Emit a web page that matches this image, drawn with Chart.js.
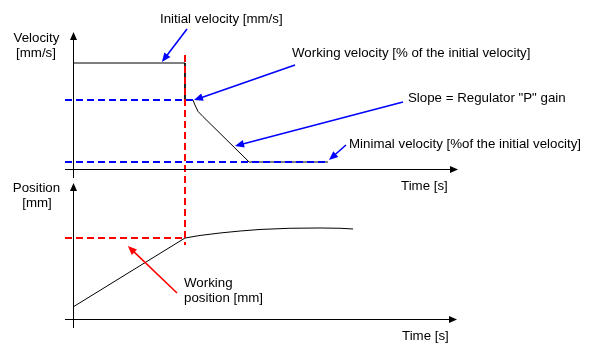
<!DOCTYPE html>
<html>
<head>
<meta charset="utf-8">
<script src="https://cdn.jsdelivr.net/npm/chart.js@4/dist/chart.umd.min.js"></script>
<style>
html,body{margin:0;padding:0;background:#fff;}
canvas{display:block;}
</style>
</head>
<body>
<canvas id="c" width="599" height="356"></canvas>
<script>
// ---- data (time in arbitrary units, velocity in % of initial, position in % of final) ----
const velTime  = [0, 3.49, 3.49, 3.74, 3.80, 3.90, 4.05, 5.49, 7.95];
const velValue = [100, 100, 65, 65, 60.4, 54.2, 49.5, 6.6, 6.6];
const posTime  = [0, 3.49, 3.96, 4.58, 5.21, 5.83, 6.76, 7.70, 8.32, 8.73];
const posValue = [13.2, 89, 91.8, 94.5, 96.7, 98.4, 99.7, 100, 99.7, 98.9];

const switchTime = 3.49;
const workingVelocity = 65;
const workingVelEnd = 3.74;
const minimalVelocity = 6.6;
const minimalVelEnd = 7.95;
const workingPosition = 89;
const redLineTop = 290, redLineBottom = 81.3;

const tMin = -0.25, tMax = 12;
const vMin = -150, vMax = 129.25;
const pMin = -9.89, pMax = 315.38;

const axisLabels = {
  vel: ['Velocity', '[mm/s]'],
  pos: ['Position', '[mm]'],
  time: 'Time [s]'
};

// annotations: arrow heads in data units, text anchors in px
const notes = [
  {text:['Initial velocity [mm/s]'], tx:160, ty:22.5, tail:[187,29], head:{t:2.77, y:101, axis:'yV'}, color:'#0000ff'},
  {text:['Working velocity [% of the initial velocity]'], tx:292, ty:56.5, tail:[295,65], head:{t:3.77, y:65, axis:'yV'}, color:'#0000ff'},
  {text:['Slope = Regulator "P" gain'], tx:408, ty:101.5, tail:[403,102], head:{t:5.05, y:21.7, axis:'yV'}, color:'#0000ff'},
  {text:['Minimal velocity [%of the initial velocity]'], tx:349, ty:147.5, tail:[346,145], head:{t:7.98, y:8.5, axis:'yV'}, color:'#0000ff'},
  {text:['Working', 'position [mm]'], tx:184, ty:286.5, tail:[177,293], head:{t:1.71, y:80.2, axis:'yP'}, color:'#ff0000'}
];

const pts = (xs, ys) => xs.map((x, i) => ({x, y: ys[i]}));

const FONT = '13.3px "Liberation Sans", Arial, sans-serif';

function arrowHead(ctx, x1, y1, x2, y2, len, hw, color) {
  const a = Math.atan2(y2 - y1, x2 - x1);
  const c = Math.cos(a), s = Math.sin(a);
  ctx.fillStyle = color;
  ctx.beginPath();
  ctx.moveTo(x2, y2);
  ctx.lineTo(x2 - len * c - hw * s, y2 - len * s + hw * c);
  ctx.lineTo(x2 - len * c + hw * s, y2 - len * s - hw * c);
  ctx.closePath();
  ctx.fill();
}

const diagram = {
  id: 'diagram',
  afterDatasetsDraw(chart) {
    const ctx = chart.ctx;
    const x = chart.scales.x, yV = chart.scales.yV, yP = chart.scales.yP;
    ctx.save();
    ctx.strokeStyle = '#000';
    ctx.lineWidth = 1;
    // top panel axes
    const x0 = Math.round(x.getPixelForValue(0)) + 0.5;
    const xl = x.getPixelForValue(tMin), xr = x.getPixelForValue(tMax);
    const vy0 = Math.round(yV.getPixelForValue(0)) + 0.5;
    const vTop = yV.getPixelForValue(vMax), vBot = yV.getPixelForValue(-8.5);
    ctx.beginPath();
    ctx.moveTo(x0, vTop + 4); ctx.lineTo(x0, vBot);
    ctx.moveTo(xl, vy0); ctx.lineTo(xr - 4, vy0);
    ctx.stroke();
    arrowHead(ctx, x0, vy0, x0, vTop, 8, 3.5, '#000');
    arrowHead(ctx, xl, vy0, xr, vy0, 8, 3.5, '#000');
    // bottom panel axes
    const py0 = Math.round(yP.getPixelForValue(0)) + 0.5;
    const pTop = yP.getPixelForValue(149.5), pBot = yP.getPixelForValue(pMin);
    ctx.beginPath();
    ctx.moveTo(x0, pTop + 4); ctx.lineTo(x0, pBot);
    ctx.moveTo(xl, py0); ctx.lineTo(xr - 5, py0);
    ctx.stroke();
    arrowHead(ctx, x0, py0, x0, pTop, 8, 3.5, '#000');
    arrowHead(ctx, xl, py0, xr - 1, py0, 8, 3.5, '#000');

    // axis titles
    ctx.font = FONT;
    ctx.fillStyle = '#000';
    ctx.textBaseline = 'alphabetic';
    ctx.textAlign = 'center';
    ctx.fillText(axisLabels.vel[0], 36.5, 41.5);
    ctx.fillText(axisLabels.vel[1], 36, 57);
    ctx.fillText(axisLabels.pos[0], 36.5, 191.5);
    ctx.fillText(axisLabels.pos[1], 37, 207);
    ctx.textAlign = 'left';
    ctx.fillText(axisLabels.time, 401, 189.5);
    ctx.fillText(axisLabels.time, 402, 339.5);

    // annotations
    notes.forEach(n => {
      ctx.fillStyle = '#000';
      ctx.textAlign = 'left';
      n.text.forEach((line, i) => ctx.fillText(line, n.tx, n.ty + i * 15.5));
      const sc = chart.scales[n.head.axis];
      const hx = x.getPixelForValue(n.head.t), hy = sc.getPixelForValue(n.head.y);
      const [tx, ty] = n.tail;
      const a = Math.atan2(hy - ty, hx - tx);
      ctx.strokeStyle = n.color;
      ctx.lineWidth = 1.6;
      ctx.beginPath();
      ctx.moveTo(tx, ty);
      ctx.lineTo(hx - 6 * Math.cos(a), hy - 6 * Math.sin(a));
      ctx.stroke();
      arrowHead(ctx, tx, ty, hx, hy, 9, 3.8, n.color);
    });
    ctx.restore();
  }
};

new Chart(document.getElementById('c'), {
  type: 'scatter',
  data: {
    datasets: [
      { label: 'working velocity', data: pts([tMin, workingVelEnd], [workingVelocity, workingVelocity]), yAxisID: 'yV',
        showLine: true, borderColor: '#0000ff', borderWidth: 2, borderDash: [7, 4], pointRadius: 0 },
      { label: 'minimal velocity', data: pts([tMin, minimalVelEnd], [minimalVelocity, minimalVelocity]), yAxisID: 'yV',
        showLine: true, borderColor: '#0000ff', borderWidth: 2, borderDash: [7, 4], pointRadius: 0 },
      { label: 'switch time', data: pts([switchTime, switchTime], [redLineTop, redLineBottom]), yAxisID: 'yP',
        showLine: true, borderColor: '#ff0000', borderWidth: 2, borderDash: [7, 4], pointRadius: 0 },
      { label: 'working position', data: pts([tMin, switchTime], [workingPosition, workingPosition]), yAxisID: 'yP',
        showLine: true, borderColor: '#ff0000', borderWidth: 2, borderDash: [7, 4], pointRadius: 0 },
      { label: 'velocity', data: pts(velTime, velValue), yAxisID: 'yV',
        showLine: true, borderColor: '#000', borderWidth: 1, pointRadius: 0, tension: 0 },
      { label: 'position', data: pts(posTime, posValue), yAxisID: 'yP',
        showLine: true, borderColor: '#000', borderWidth: 1, pointRadius: 0, tension: 0 }
    ]
  },
  options: {
    responsive: false,
    animation: false,
    devicePixelRatio: 1,
    layout: { padding: { left: 65, right: 141, top: 32, bottom: 28 } },
    plugins: { legend: { display: false }, tooltip: { enabled: false } },
    scales: {
      x: { type: 'linear', display: false, min: tMin, max: tMax },
      yV: { type: 'linear', display: false, min: vMin, max: vMax },
      yP: { type: 'linear', display: false, min: pMin, max: pMax }
    }
  },
  plugins: [diagram]
});
</script>
</body>
</html>
